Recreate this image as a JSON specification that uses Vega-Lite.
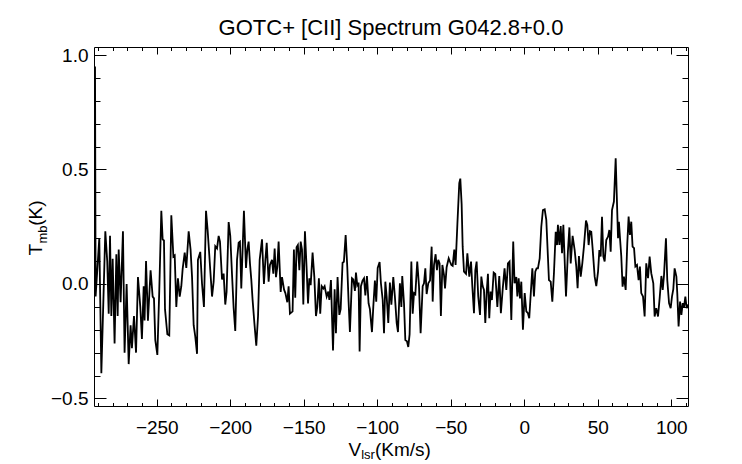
{
  "$schema": "https://vega.github.io/schema/vega-lite/v6.json",
  "width": 594,
  "height": 359,
  "autosize": "none",
  "padding": {"left": 94, "top": 47, "right": 54, "bottom": 58},
  "background": "white",
  "config": {
    "view": {"stroke": "black", "strokeWidth": 1},
    "font": "Liberation Sans",
    "axis": {
      "labelColor": "black", "labelFont": "Liberation Sans", "labelFontSize": 19,
      "titleColor": "black", "titleFont": "Liberation Sans", "titleFontSize": 19, "titleFontWeight": "normal"
    }
  },
  "title": {"text": "GOTC+ [CII] Spectrum G042.8+0.0", "font": "Liberation Sans", "fontSize": 22, "fontWeight": "normal", "color": "black", "anchor": "middle", "frame": "group", "offset": 6},
  "data": {"values": [
    {"vlsr": -292.0, "tmb": 0.95}, {"vlsr": -291.6, "tmb": -0.055}, {"vlsr": -289.1, "tmb": 0.2}, {"vlsr": -287.7, "tmb": -0.39},
    {"vlsr": -285.0, "tmb": 0.23}, {"vlsr": -283.7, "tmb": 0.1}, {"vlsr": -282.7, "tmb": -0.13}, {"vlsr": -281.8, "tmb": 0.21},
    {"vlsr": -280.9, "tmb": -0.14}, {"vlsr": -280.0, "tmb": 0.11}, {"vlsr": -278.7, "tmb": -0.26}, {"vlsr": -277.5, "tmb": 0.13},
    {"vlsr": -276.6, "tmb": -0.14}, {"vlsr": -275.9, "tmb": 0.15}, {"vlsr": -274.6, "tmb": -0.08}, {"vlsr": -273.0, "tmb": 0.23},
    {"vlsr": -271.9, "tmb": -0.3}, {"vlsr": -270.5, "tmb": 0.0}, {"vlsr": -269.1, "tmb": -0.35}, {"vlsr": -267.8, "tmb": -0.18},
    {"vlsr": -266.9, "tmb": -0.28}, {"vlsr": -265.5, "tmb": -0.14}, {"vlsr": -264.1, "tmb": -0.3}, {"vlsr": -262.8, "tmb": 0.03},
    {"vlsr": -261.2, "tmb": -0.1}, {"vlsr": -260.1, "tmb": -0.24}, {"vlsr": -258.9, "tmb": -0.01}, {"vlsr": -258.3, "tmb": -0.16},
    {"vlsr": -257.3, "tmb": 0.1}, {"vlsr": -256.0, "tmb": -0.16}, {"vlsr": -254.2, "tmb": 0.06}, {"vlsr": -252.8, "tmb": -0.055},
    {"vlsr": -251.9, "tmb": -0.063}, {"vlsr": -251.0, "tmb": -0.245}, {"vlsr": -249.6, "tmb": -0.31}, {"vlsr": -248.3, "tmb": -0.03},
    {"vlsr": -246.9, "tmb": 0.32}, {"vlsr": -246.0, "tmb": 0.195}, {"vlsr": -245.1, "tmb": 0.19}, {"vlsr": -244.4, "tmb": -0.11},
    {"vlsr": -242.8, "tmb": -0.22}, {"vlsr": -241.5, "tmb": -0.225}, {"vlsr": -240.1, "tmb": 0.3}, {"vlsr": -238.7, "tmb": 0.12},
    {"vlsr": -237.8, "tmb": 0.125}, {"vlsr": -236.7, "tmb": -0.1}, {"vlsr": -235.6, "tmb": 0.025}, {"vlsr": -234.4, "tmb": -0.055},
    {"vlsr": -233.3, "tmb": -0.01}, {"vlsr": -232.4, "tmb": 0.065}, {"vlsr": -231.0, "tmb": 0.137}, {"vlsr": -229.9, "tmb": 0.07},
    {"vlsr": -228.3, "tmb": 0.23}, {"vlsr": -227.0, "tmb": 0.15}, {"vlsr": -226.0, "tmb": 0.03}, {"vlsr": -224.9, "tmb": -0.18},
    {"vlsr": -223.8, "tmb": -0.23}, {"vlsr": -222.6, "tmb": -0.305}, {"vlsr": -222.0, "tmb": 0.105}, {"vlsr": -220.4, "tmb": 0.14},
    {"vlsr": -219.2, "tmb": 0.0}, {"vlsr": -217.9, "tmb": -0.1}, {"vlsr": -216.5, "tmb": 0.32}, {"vlsr": -215.4, "tmb": 0.235},
    {"vlsr": -214.3, "tmb": 0.13}, {"vlsr": -213.6, "tmb": 0.06}, {"vlsr": -212.4, "tmb": -0.055}, {"vlsr": -211.3, "tmb": 0.01},
    {"vlsr": -210.2, "tmb": 0.165}, {"vlsr": -209.0, "tmb": 0.155}, {"vlsr": -207.9, "tmb": 0.21}, {"vlsr": -207.0, "tmb": 0.185},
    {"vlsr": -205.6, "tmb": 0.02}, {"vlsr": -204.5, "tmb": 0.045}, {"vlsr": -203.4, "tmb": -0.09}, {"vlsr": -202.5, "tmb": -0.035},
    {"vlsr": -201.1, "tmb": 0.27}, {"vlsr": -200.0, "tmb": 0.21}, {"vlsr": -198.8, "tmb": 0.04}, {"vlsr": -197.7, "tmb": -0.105},
    {"vlsr": -196.6, "tmb": -0.205}, {"vlsr": -195.4, "tmb": 0.105}, {"vlsr": -194.3, "tmb": 0.18}, {"vlsr": -193.4, "tmb": 0.185},
    {"vlsr": -192.5, "tmb": -0.02}, {"vlsr": -191.6, "tmb": 0.15}, {"vlsr": -190.7, "tmb": 0.32}, {"vlsr": -189.3, "tmb": 0.07},
    {"vlsr": -188.4, "tmb": 0.15}, {"vlsr": -187.5, "tmb": 0.185}, {"vlsr": -186.6, "tmb": 0.09}, {"vlsr": -185.7, "tmb": 0.02},
    {"vlsr": -184.8, "tmb": -0.07}, {"vlsr": -183.6, "tmb": -0.17}, {"vlsr": -182.3, "tmb": -0.27}, {"vlsr": -181.1, "tmb": -0.14},
    {"vlsr": -180.0, "tmb": 0.105}, {"vlsr": -178.4, "tmb": 0.195}, {"vlsr": -177.1, "tmb": 0.0}, {"vlsr": -176.1, "tmb": 0.105},
    {"vlsr": -175.2, "tmb": 0.18}, {"vlsr": -173.9, "tmb": 0.01}, {"vlsr": -173.0, "tmb": 0.083}, {"vlsr": -171.6, "tmb": 0.105},
    {"vlsr": -170.7, "tmb": 0.045}, {"vlsr": -169.8, "tmb": 0.155}, {"vlsr": -168.9, "tmb": 0.03}, {"vlsr": -168.0, "tmb": 0.075},
    {"vlsr": -167.1, "tmb": 0.185}, {"vlsr": -165.7, "tmb": -0.035}, {"vlsr": -164.8, "tmb": 0.03}, {"vlsr": -163.4, "tmb": -0.025},
    {"vlsr": -162.5, "tmb": -0.04}, {"vlsr": -161.2, "tmb": -0.08}, {"vlsr": -160.3, "tmb": -0.01}, {"vlsr": -159.4, "tmb": -0.13},
    {"vlsr": -157.6, "tmb": -0.12}, {"vlsr": -156.7, "tmb": 0.15}, {"vlsr": -155.8, "tmb": -0.06}, {"vlsr": -154.9, "tmb": 0.16},
    {"vlsr": -154.0, "tmb": 0.17}, {"vlsr": -153.0, "tmb": 0.06}, {"vlsr": -152.1, "tmb": 0.185}, {"vlsr": -151.2, "tmb": 0.15},
    {"vlsr": -150.3, "tmb": -0.09}, {"vlsr": -149.2, "tmb": 0.23}, {"vlsr": -148.1, "tmb": 0.075}, {"vlsr": -147.1, "tmb": -0.085},
    {"vlsr": -146.2, "tmb": 0.025}, {"vlsr": -145.3, "tmb": -0.005}, {"vlsr": -144.0, "tmb": 0.137}, {"vlsr": -142.8, "tmb": 0.03},
    {"vlsr": -141.7, "tmb": -0.14}, {"vlsr": -140.8, "tmb": -0.1}, {"vlsr": -139.7, "tmb": 0.025}, {"vlsr": -138.8, "tmb": -0.13},
    {"vlsr": -137.8, "tmb": -0.01}, {"vlsr": -136.7, "tmb": -0.02}, {"vlsr": -135.8, "tmb": -0.01}, {"vlsr": -134.4, "tmb": -0.055},
    {"vlsr": -133.3, "tmb": -0.033}, {"vlsr": -132.6, "tmb": -0.07}, {"vlsr": -131.5, "tmb": 0.017}, {"vlsr": -130.1, "tmb": -0.29},
    {"vlsr": -129.0, "tmb": -0.023}, {"vlsr": -128.1, "tmb": -0.215}, {"vlsr": -127.0, "tmb": 0.03}, {"vlsr": -125.8, "tmb": -0.135},
    {"vlsr": -124.9, "tmb": -0.11}, {"vlsr": -123.6, "tmb": 0.093}, {"vlsr": -122.7, "tmb": 0.097}, {"vlsr": -121.5, "tmb": 0.214},
    {"vlsr": -120.4, "tmb": 0.075}, {"vlsr": -119.5, "tmb": -0.077}, {"vlsr": -118.6, "tmb": -0.21}, {"vlsr": -117.2, "tmb": 0.025},
    {"vlsr": -116.3, "tmb": 0.02}, {"vlsr": -115.2, "tmb": -0.03}, {"vlsr": -114.5, "tmb": 0.05}, {"vlsr": -113.6, "tmb": -0.005},
    {"vlsr": -112.7, "tmb": 0.006}, {"vlsr": -112.0, "tmb": -0.295}, {"vlsr": -111.1, "tmb": -0.01}, {"vlsr": -110.0, "tmb": 0.015},
    {"vlsr": -109.0, "tmb": 0.025}, {"vlsr": -108.1, "tmb": -0.05}, {"vlsr": -107.0, "tmb": 0.035}, {"vlsr": -105.9, "tmb": -0.085},
    {"vlsr": -105.0, "tmb": -0.11}, {"vlsr": -103.6, "tmb": -0.21}, {"vlsr": -102.7, "tmb": -0.1}, {"vlsr": -101.6, "tmb": 0.015},
    {"vlsr": -100.7, "tmb": -0.077}, {"vlsr": -99.7, "tmb": 0.07}, {"vlsr": -98.4, "tmb": 0.096}, {"vlsr": -97.5, "tmb": 0.003},
    {"vlsr": -96.3, "tmb": -0.07}, {"vlsr": -95.4, "tmb": -0.215}, {"vlsr": -94.5, "tmb": 0.01}, {"vlsr": -93.6, "tmb": -0.055},
    {"vlsr": -92.5, "tmb": -0.17}, {"vlsr": -91.4, "tmb": 0.006}, {"vlsr": -90.4, "tmb": -0.09}, {"vlsr": -89.1, "tmb": 0.03},
    {"vlsr": -88.0, "tmb": -0.055}, {"vlsr": -86.8, "tmb": -0.17}, {"vlsr": -85.9, "tmb": -0.21}, {"vlsr": -84.6, "tmb": 0.003},
    {"vlsr": -83.6, "tmb": -0.1}, {"vlsr": -83.0, "tmb": 0.035}, {"vlsr": -81.8, "tmb": -0.085}, {"vlsr": -80.9, "tmb": -0.245},
    {"vlsr": -79.8, "tmb": -0.25}, {"vlsr": -78.9, "tmb": -0.275}, {"vlsr": -78.0, "tmb": -0.22}, {"vlsr": -76.8, "tmb": 0.098},
    {"vlsr": -75.9, "tmb": -0.13}, {"vlsr": -75.0, "tmb": -0.04}, {"vlsr": -74.1, "tmb": -0.045}, {"vlsr": -72.8, "tmb": 0.098},
    {"vlsr": -71.6, "tmb": -0.01}, {"vlsr": -70.5, "tmb": -0.215}, {"vlsr": -69.1, "tmb": -0.01}, {"vlsr": -68.2, "tmb": 0.003},
    {"vlsr": -67.3, "tmb": 0.068}, {"vlsr": -66.4, "tmb": -0.044}, {"vlsr": -65.3, "tmb": 0.003}, {"vlsr": -64.1, "tmb": 0.015},
    {"vlsr": -63.0, "tmb": 0.163}, {"vlsr": -62.3, "tmb": -0.077}, {"vlsr": -61.4, "tmb": 0.083}, {"vlsr": -60.3, "tmb": 0.13},
    {"vlsr": -59.4, "tmb": 0.06}, {"vlsr": -58.5, "tmb": 0.105}, {"vlsr": -57.6, "tmb": 0.09}, {"vlsr": -56.7, "tmb": -0.14},
    {"vlsr": -55.7, "tmb": 0.083}, {"vlsr": -54.6, "tmb": 0.04}, {"vlsr": -53.9, "tmb": -0.02}, {"vlsr": -52.8, "tmb": 0.073},
    {"vlsr": -51.4, "tmb": 0.112}, {"vlsr": -50.5, "tmb": 0.097}, {"vlsr": -49.6, "tmb": 0.083}, {"vlsr": -48.7, "tmb": 0.079},
    {"vlsr": -47.6, "tmb": 0.15}, {"vlsr": -46.7, "tmb": 0.083}, {"vlsr": -45.5, "tmb": 0.26}, {"vlsr": -44.2, "tmb": 0.44},
    {"vlsr": -43.5, "tmb": 0.46}, {"vlsr": -42.6, "tmb": 0.35}, {"vlsr": -41.9, "tmb": 0.163}, {"vlsr": -41.0, "tmb": 0.054},
    {"vlsr": -39.6, "tmb": 0.044}, {"vlsr": -38.7, "tmb": 0.134}, {"vlsr": -37.4, "tmb": 0.032}, {"vlsr": -36.2, "tmb": 0.098},
    {"vlsr": -35.3, "tmb": -0.012}, {"vlsr": -34.2, "tmb": -0.128}, {"vlsr": -33.3, "tmb": 0.06}, {"vlsr": -32.4, "tmb": 0.098},
    {"vlsr": -31.3, "tmb": -0.055}, {"vlsr": -30.1, "tmb": -0.135}, {"vlsr": -29.2, "tmb": 0.032}, {"vlsr": -28.3, "tmb": -0.009},
    {"vlsr": -27.4, "tmb": -0.026}, {"vlsr": -26.5, "tmb": -0.17}, {"vlsr": -25.6, "tmb": -0.04}, {"vlsr": -24.7, "tmb": 0.044},
    {"vlsr": -23.8, "tmb": -0.15}, {"vlsr": -22.9, "tmb": -0.033}, {"vlsr": -22.0, "tmb": -0.07}, {"vlsr": -20.8, "tmb": 0.05},
    {"vlsr": -19.7, "tmb": 0.044}, {"vlsr": -18.3, "tmb": -0.1}, {"vlsr": -17.0, "tmb": 0.035}, {"vlsr": -15.9, "tmb": -0.128},
    {"vlsr": -14.7, "tmb": -0.026}, {"vlsr": -13.4, "tmb": 0.068}, {"vlsr": -12.2, "tmb": -0.026}, {"vlsr": -11.1, "tmb": 0.09},
    {"vlsr": -10.0, "tmb": 0.098}, {"vlsr": -8.8, "tmb": -0.157}, {"vlsr": -7.5, "tmb": 0.185}, {"vlsr": -6.6, "tmb": 0.003},
    {"vlsr": -5.4, "tmb": 0.03}, {"vlsr": -4.7, "tmb": -0.055}, {"vlsr": -3.8, "tmb": 0.025}, {"vlsr": -2.9, "tmb": -0.063},
    {"vlsr": -2.0, "tmb": 0.01}, {"vlsr": -0.9, "tmb": -0.2}, {"vlsr": 0.3, "tmb": -0.04}, {"vlsr": 1.4, "tmb": -0.12},
    {"vlsr": 2.5, "tmb": -0.128}, {"vlsr": 3.4, "tmb": -0.15}, {"vlsr": 4.3, "tmb": -0.055}, {"vlsr": 5.5, "tmb": 0.068},
    {"vlsr": 6.6, "tmb": -0.055}, {"vlsr": 7.5, "tmb": 0.054}, {"vlsr": 8.4, "tmb": 0.068}, {"vlsr": 9.3, "tmb": 0.068},
    {"vlsr": 10.5, "tmb": 0.112}, {"vlsr": 11.6, "tmb": 0.25}, {"vlsr": 12.7, "tmb": 0.323}, {"vlsr": 13.9, "tmb": 0.326},
    {"vlsr": 15.0, "tmb": 0.28}, {"vlsr": 15.9, "tmb": 0.148}, {"vlsr": 16.8, "tmb": 0.017}, {"vlsr": 18.0, "tmb": 0.01},
    {"vlsr": 19.1, "tmb": -0.077}, {"vlsr": 20.2, "tmb": 0.047}, {"vlsr": 21.4, "tmb": 0.228}, {"vlsr": 22.3, "tmb": 0.17},
    {"vlsr": 22.9, "tmb": 0.258}, {"vlsr": 23.9, "tmb": 0.17}, {"vlsr": 24.8, "tmb": 0.253}, {"vlsr": 25.7, "tmb": 0.134},
    {"vlsr": 26.6, "tmb": 0.258}, {"vlsr": 28.4, "tmb": -0.055}, {"vlsr": 29.7, "tmb": 0.141}, {"vlsr": 30.7, "tmb": 0.247},
    {"vlsr": 31.6, "tmb": 0.09}, {"vlsr": 32.9, "tmb": 0.21}, {"vlsr": 34.3, "tmb": 0.148}, {"vlsr": 35.4, "tmb": 0.076},
    {"vlsr": 36.3, "tmb": -0.019}, {"vlsr": 37.2, "tmb": 0.122}, {"vlsr": 38.4, "tmb": 0.032}, {"vlsr": 39.5, "tmb": 0.09},
    {"vlsr": 40.6, "tmb": 0.163}, {"vlsr": 42.0, "tmb": 0.277}, {"vlsr": 42.9, "tmb": 0.258}, {"vlsr": 43.8, "tmb": 0.17},
    {"vlsr": 44.7, "tmb": 0.231}, {"vlsr": 45.6, "tmb": 0.228}, {"vlsr": 46.5, "tmb": 0.156}, {"vlsr": 47.9, "tmb": 0.032},
    {"vlsr": 49.0, "tmb": -0.009}, {"vlsr": 50.2, "tmb": 0.054}, {"vlsr": 51.1, "tmb": 0.148}, {"vlsr": 52.0, "tmb": 0.12},
    {"vlsr": 52.9, "tmb": 0.294}, {"vlsr": 53.8, "tmb": 0.12}, {"vlsr": 54.7, "tmb": 0.098}, {"vlsr": 55.8, "tmb": 0.192},
    {"vlsr": 57.0, "tmb": 0.207}, {"vlsr": 57.9, "tmb": 0.236}, {"vlsr": 58.8, "tmb": 0.141}, {"vlsr": 59.7, "tmb": 0.323},
    {"vlsr": 61.0, "tmb": 0.36}, {"vlsr": 62.2, "tmb": 0.549}, {"vlsr": 62.9, "tmb": 0.396}, {"vlsr": 63.8, "tmb": 0.2},
    {"vlsr": 64.4, "tmb": 0.272}, {"vlsr": 65.1, "tmb": 0.204}, {"vlsr": 66.0, "tmb": 0.122}, {"vlsr": 66.9, "tmb": -0.012},
    {"vlsr": 67.8, "tmb": 0.032}, {"vlsr": 69.0, "tmb": -0.026}, {"vlsr": 70.1, "tmb": 0.178}, {"vlsr": 71.0, "tmb": 0.294},
    {"vlsr": 71.9, "tmb": 0.214}, {"vlsr": 72.8, "tmb": 0.272}, {"vlsr": 73.7, "tmb": 0.163}, {"vlsr": 74.7, "tmb": 0.156},
    {"vlsr": 75.6, "tmb": 0.076}, {"vlsr": 76.7, "tmb": 0.083}, {"vlsr": 77.8, "tmb": 0.017}, {"vlsr": 78.7, "tmb": 0.076},
    {"vlsr": 79.6, "tmb": -0.04}, {"vlsr": 80.8, "tmb": -0.055}, {"vlsr": 81.9, "tmb": -0.142}, {"vlsr": 83.0, "tmb": 0.09},
    {"vlsr": 84.2, "tmb": 0.025}, {"vlsr": 85.3, "tmb": 0.12}, {"vlsr": 86.4, "tmb": 0.047}, {"vlsr": 87.8, "tmb": 0.003},
    {"vlsr": 88.7, "tmb": -0.142}, {"vlsr": 89.8, "tmb": -0.106}, {"vlsr": 91.0, "tmb": -0.142}, {"vlsr": 92.1, "tmb": -0.063},
    {"vlsr": 93.3, "tmb": 0.035}, {"vlsr": 94.2, "tmb": -0.026}, {"vlsr": 95.1, "tmb": 0.04}, {"vlsr": 96.4, "tmb": 0.2},
    {"vlsr": 97.3, "tmb": 0.017}, {"vlsr": 98.5, "tmb": -0.084}, {"vlsr": 99.6, "tmb": -0.106}, {"vlsr": 100.5, "tmb": -0.055},
    {"vlsr": 101.4, "tmb": -0.023}, {"vlsr": 102.3, "tmb": 0.068}, {"vlsr": 103.5, "tmb": 0.032}, {"vlsr": 104.1, "tmb": -0.04},
    {"vlsr": 105.0, "tmb": -0.186}, {"vlsr": 106.0, "tmb": -0.077}, {"vlsr": 106.9, "tmb": -0.135}, {"vlsr": 107.8, "tmb": -0.084},
    {"vlsr": 108.7, "tmb": -0.1}, {"vlsr": 109.6, "tmb": -0.055}, {"vlsr": 110.5, "tmb": -0.106}, {"vlsr": 111.4, "tmb": -0.09}
  ]},
  "layer": [
    {
      "mark": {"type": "line", "color": "black", "strokeWidth": 1.8, "clip": true},
      "encoding": {
        "x": {
          "field": "vlsr", "type": "quantitative",
          "scale": {"domain": [-292.7, 111.4], "nice": false, "zero": false},
          "axis": {
            "orient": "bottom", "offset": -359, "values": [-250, -200, -150, -100, -50, 0, 50, 100],
            "grid": false, "domain": false, "tickSize": 7, "tickColor": "black", "tickWidth": 1,
            "labelPadding": 364.6,
            "title": "V", "titleX": 254, "titleY": 408, "titleAngle": 0, "titleAlign": "left", "titleBaseline": "alphabetic"
          }
        },
        "y": {
          "field": "tmb", "type": "quantitative",
          "scale": {"domain": [-0.533, 1.035], "nice": false, "zero": false},
          "axis": {
            "orient": "left", "offset": -594, "values": [-0.5, 0, 0.5, 1.0], "format": ".1f",
            "grid": false, "domain": false, "tickSize": 12, "tickColor": "black", "tickWidth": 1,
            "labelPadding": 588,
            "title": "T", "titleX": -646.3, "titleY": 208, "titleAngle": 270, "titleAlign": "left", "titleBaseline": "alphabetic"
          }
        }
      }
    },
    {
      "mark": {"type": "line", "opacity": 0},
      "encoding": {
        "x": {
          "field": "vlsr", "type": "quantitative",
          "scale": {"domain": [-292.7, 111.4], "nice": false, "zero": false},
          "axis": {
            "orient": "top", "offset": -359, "values": [-250, -200, -150, -100, -50, 0, 50, 100],
            "grid": false, "domain": false, "labels": false, "tickSize": 7, "tickColor": "black", "tickWidth": 1,
            "title": "lsr", "titleFontSize": 13, "titleX": 266.7, "titleY": 52, "titleAngle": 0, "titleAlign": "left", "titleBaseline": "alphabetic"
          }
        },
        "y": {
          "field": "tmb", "type": "quantitative",
          "scale": {"domain": [-0.533, 1.035], "nice": false, "zero": false},
          "axis": {
            "orient": "right", "offset": -594, "values": [-0.5, 0, 0.5, 1.0],
            "grid": false, "domain": false, "labels": false, "tickSize": 12, "tickColor": "black", "tickWidth": 1,
            "title": "mb", "titleFontSize": 13, "titleX": -48, "titleY": 196, "titleAngle": 270, "titleAlign": "left", "titleBaseline": "alphabetic"
          }
        }
      }
    },
    {
      "mark": {"type": "line", "opacity": 0},
      "encoding": {
        "x": {
          "field": "vlsr", "type": "quantitative",
          "scale": {"domain": [-292.7, 111.4], "nice": false, "zero": false},
          "axis": {
            "orient": "top", "offset": -359, "values": [-290, -280, -270, -260, -240, -230, -220, -210, -190, -180, -170, -160, -140, -130, -120, -110, -90, -80, -70, -60, -40, -30, -20, -10, 10, 20, 30, 40, 60, 70, 80, 90, 110],
            "grid": false, "domain": false, "labels": false, "tickSize": 3.5, "tickColor": "black", "tickWidth": 1,
            "title": "(Km/s)", "titleX": 280.4, "titleY": 49, "titleAngle": 0, "titleAlign": "left", "titleBaseline": "alphabetic"
          }
        },
        "y": {
          "field": "tmb", "type": "quantitative",
          "scale": {"domain": [-0.533, 1.035], "nice": false, "zero": false},
          "axis": {
            "orient": "right", "offset": -594, "values": [-0.4, -0.3, -0.2, -0.1, 0.1, 0.2, 0.3, 0.4, 0.6, 0.7, 0.8, 0.9],
            "grid": false, "domain": false, "labels": false, "tickSize": 6, "tickColor": "black", "tickWidth": 1,
            "title": "(K)", "titleX": -52.3, "titleY": 178.3, "titleAngle": 270, "titleAlign": "left", "titleBaseline": "alphabetic"
          }
        }
      }
    },
    {
      "mark": {"type": "line", "opacity": 0},
      "encoding": {
        "x": {
          "field": "vlsr", "type": "quantitative",
          "scale": {"domain": [-292.7, 111.4], "nice": false, "zero": false},
          "axis": {
            "orient": "bottom", "offset": -359, "values": [-290, -280, -270, -260, -240, -230, -220, -210, -190, -180, -170, -160, -140, -130, -120, -110, -90, -80, -70, -60, -40, -30, -20, -10, 10, 20, 30, 40, 60, 70, 80, 90, 110],
            "grid": false, "domain": false, "labels": false, "tickSize": 3.5, "tickColor": "black", "tickWidth": 1, "title": null
          }
        },
        "y": {
          "field": "tmb", "type": "quantitative",
          "scale": {"domain": [-0.533, 1.035], "nice": false, "zero": false},
          "axis": {
            "orient": "left", "offset": -594, "values": [-0.4, -0.3, -0.2, -0.1, 0.1, 0.2, 0.3, 0.4, 0.6, 0.7, 0.8, 0.9],
            "grid": false, "domain": false, "labels": false, "tickSize": 6, "tickColor": "black", "tickWidth": 1, "title": null
          }
        }
      }
    }
  ],
  "resolve": {"axis": {"x": "independent", "y": "independent"}}
}
